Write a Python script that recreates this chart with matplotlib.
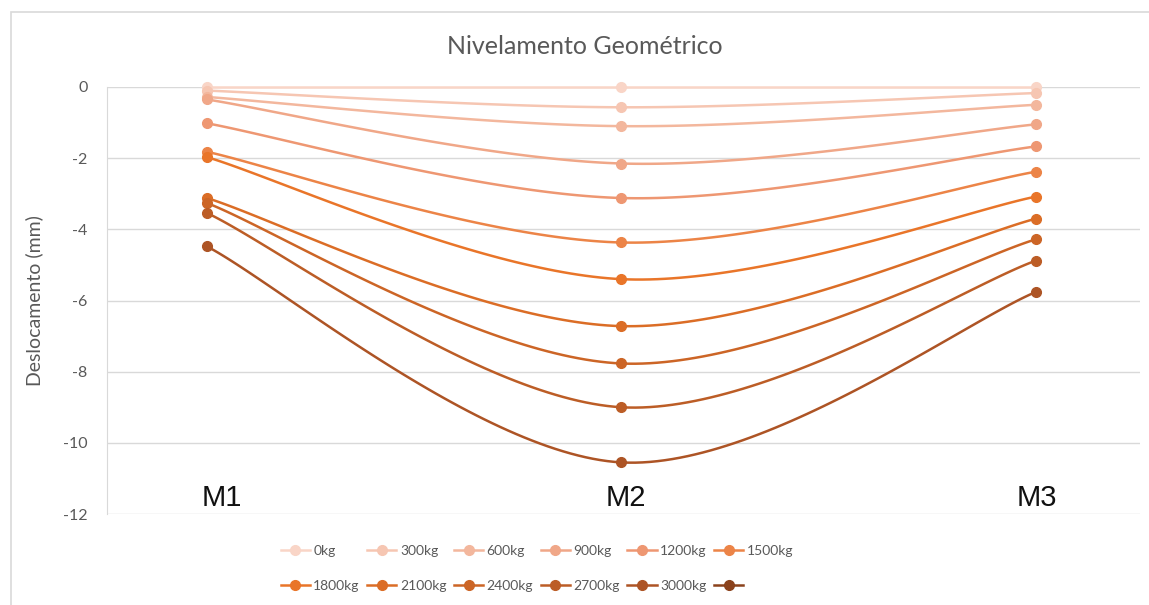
import matplotlib.pyplot as plt
import numpy as np
from matplotlib.patches import Rectangle

plt.rcParams['font.family'] = ['Lato', 'DejaVu Sans']
plt.rcParams['axes.unicode_minus'] = False

# pontos de leitura e cargas aplicadas
pontos = ['M1', 'M2', 'M3']
cargas = ['0kg', '300kg', '600kg', '900kg', '1200kg', '1500kg',
          '1800kg', '2100kg', '2400kg', '2700kg', '3000kg', '']

# deslocamentos (mm) em cada ponto, por carga
desl_m1 = [0, -0.1, -0.28, -0.35, -1.02, -1.82, -1.97, -3.12, -3.26, -3.54, -4.48]
desl_m2 = [0, -0.57, -1.1, -2.15, -3.12, -4.37, -5.4, -6.72, -7.77, -9.0, -10.55]
desl_m3 = [0, -0.17, -0.5, -1.05, -1.67, -2.38, -3.08, -3.7, -4.28, -4.88, -5.76]

cores = ['#F9D5C7', '#F6C6B2', '#F3B79D', '#F0A788', '#EE9772', '#EC8447',
         '#E97529', '#DB6D26', '#CC6526', '#BC5D26', '#AD5425', '#8B421C']

CINZA = '#595959'
GRADE = '#D9D9D9'


def suaviza(xp, yp, n=60):
    """Curva suavizada (Bezier tipo Catmull-Rom) passando pelos pontos."""
    pts = np.column_stack([np.asarray(xp, float), np.asarray(yp, float)])
    m = len(pts)
    xs, ys = [], []
    t = np.linspace(0, 1, n + 1)[:, None]
    for i in range(m - 1):
        p0 = pts[max(i - 1, 0)]
        p1 = pts[i]
        p2 = pts[i + 1]
        p3 = pts[min(i + 2, m - 1)]
        c1 = p1 + (p2 - p0) / 6
        c2 = p2 - (p3 - p1) / 6
        seg = (1 - t) ** 3 * p1 + 3 * (1 - t) ** 2 * t * c1 \
            + 3 * (1 - t) * t ** 2 * c2 + t ** 3 * p2
        if i > 0:
            seg = seg[1:]
        xs.append(seg[:, 0])
        ys.append(seg[:, 1])
    return np.concatenate(xs), np.concatenate(ys), n


fig = plt.figure(figsize=(11.49, 6.05), dpi=100)
ax = fig.add_axes([107 / 1149, 1 - 514 / 605, (1140 - 107) / 1149, (514 - 87) / 605])

x = np.arange(len(pontos))
handles = []
for k in range(len(cargas)):
    if k < len(desl_m1):
        yk = [desl_m1[k], desl_m2[k], desl_m3[k]]
        xs, ys, n = suaviza(x, yk)
        ln, = ax.plot(xs, ys, color=cores[k], lw=1.8, marker='o', ms=7,
                      markevery=[0, n, 2 * n], clip_on=False, zorder=3 + k * 0.01)
    else:
        ln, = ax.plot([], [], color=cores[k], lw=1.8, marker='o', ms=7)
    handles.append(ln)

ax.set_xlim(-0.241, 2.251)
ax.set_ylim(-12, 0)
ax.set_yticks(np.arange(-12, 1, 2))
ax.set_xticks([])
ax.grid(axis='y', color=GRADE, lw=1)
ax.set_axisbelow(True)
for s in ['top', 'right', 'bottom']:
    ax.spines[s].set_visible(False)
ax.spines['left'].set_color(GRADE)
ax.tick_params(axis='y', length=0, pad=14, labelsize=11.5, labelcolor=CINZA)
ax.set_ylabel('Deslocamento (mm)', fontsize=14, color=CINZA)
ax.yaxis.set_label_coords(-0.062, 0.5)

# rótulos dos pontos de medição
desloc_txt = [0.036, 0.01, 0.003]
for i, nome in enumerate(pontos):
    ax.text(x[i] + desloc_txt[i], -11.78, nome, ha='center', va='baseline',
            fontsize=21, family=['Liberation Sans', 'DejaVu Sans'], color='#111111')

fig.text(585 / 1149, 1 - 46 / 605, 'Nivelamento Geométrico', ha='center', va='center',
         fontsize=18, color=CINZA)

# legenda em duas linhas, preenchida por linha
ordem = [0, 6, 1, 7, 2, 8, 3, 9, 4, 10, 5, 11]
leg = fig.legend([handles[i] for i in ordem], [cargas[i] for i in ordem],
                 ncol=6, loc='center', bbox_to_anchor=(537 / 1149, 1 - 568.5 / 605),
                 frameon=False, fontsize=10, labelcolor=CINZA, handlelength=2.1,
                 handletextpad=0.25, columnspacing=0.55, labelspacing=1.7)

# moldura do gráfico
fig.add_artist(Rectangle((11 / 1149, -0.1), 1.2, 1 - 12 / 605 + 0.1,
                         transform=fig.transFigure, fill=False, ec=GRADE, lw=1.2))

fig.savefig('out.png', dpi=100)
